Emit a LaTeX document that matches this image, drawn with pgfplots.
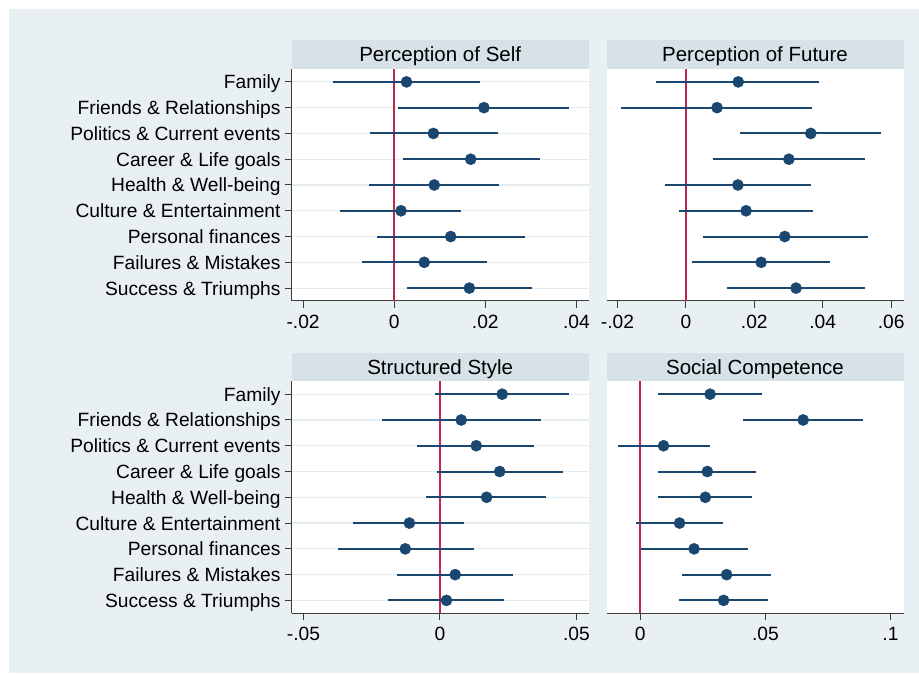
\documentclass[border=0pt]{standalone}
\usepackage{pgfplots}
\pgfplotsset{compat=1.18}
\usepackage{pgfplotstable}
\usepackage{fontspec}
\setmainfont{Liberation Sans}

\definecolor{bgcol}{RGB}{233,240,243}
\definecolor{titlecol}{RGB}{214,225,232}
\definecolor{gridcol}{RGB}{228,236,240}
\definecolor{navy}{RGB}{26,71,111}
\definecolor{refred}{RGB}{190,40,80}
\definecolor{axiscol}{RGB}{60,60,60}

% row  pt  lo  hi
\pgfplotstableread{
row pt lo hi
1 0.0027 -0.0134 0.0188
2 0.0197 0.0009 0.0384
3 0.0086 -0.0053 0.0227
4 0.0168 0.0020 0.0319
5 0.0088 -0.0055 0.0231
6 0.0015 -0.0118 0.0146
7 0.0124 -0.0038 0.0287
8 0.0066 -0.0071 0.0203
9 0.0165 0.0029 0.0303
}\self
\pgfplotstableread{
row pt lo hi
1 0.0153 -0.0086 0.0390
2 0.0091 -0.0190 0.0369
3 0.0365 0.0159 0.0569
4 0.0301 0.0080 0.0523
5 0.0152 -0.0060 0.0365
6 0.0176 -0.0021 0.0371
7 0.0289 0.0050 0.0531
8 0.0220 0.0017 0.0421
9 0.0322 0.0121 0.0523
}\future
\pgfplotstableread{
row pt lo hi
1 0.0228 -0.0019 0.0473
2 0.0078 -0.0211 0.0369
3 0.0133 -0.0084 0.0346
4 0.0219 -0.0010 0.0452
5 0.0171 -0.0050 0.0390
6 -0.0112 -0.0317 0.0090
7 -0.0127 -0.0375 0.0124
8 0.0056 -0.0156 0.0266
9 0.0024 -0.0189 0.0235
}\structured
\pgfplotstableread{
row pt lo hi
1 0.0279 0.0069 0.0487
2 0.0651 0.0409 0.0889
3 0.0093 -0.0088 0.0279
4 0.0268 0.0069 0.0463
5 0.0260 0.0072 0.0447
6 0.0157 -0.0017 0.0329
7 0.0215 0.0003 0.0429
8 0.0345 0.0168 0.0521
9 0.0333 0.0153 0.0509
}\social

\pgfplotsset{
  every axis title shift=0pt,
  panel/.style={
    scale only axis, width=297pt, height=232pt,
    ymin=0.5, ymax=9.5, y dir=reverse,
    ytick={1,...,9},
    scaled x ticks=false,
    axis background/.style={fill=white},
    ymajorgrids, major grid style={gridcol, line width=1.2pt},
    axis x line*=bottom,
    axis line style={axiscol, line width=1pt, -},
    tick align=outside, major tick length=7pt,
    tick style={axiscol, line width=1pt},
    tick label style={font=\fontsize{19.2}{23}\selectfont},
    xticklabel style={inner sep=0pt, yshift=-7pt},
    yticklabel style={inner sep=0pt, anchor=base east, yshift=-7pt, xshift=-4pt},
    title style={font=\fontsize{20.5}{24}\selectfont, fill=titlecol,
      at={(0.5,1)}, anchor=south, inner sep=0pt,
      minimum width=297pt, minimum height=28.5pt,
      text height=14.5pt, text depth=0pt},
    clip=false,
  },
  leftpanel/.style={panel, axis y line*=left,
    yticklabels={Family, Friends \& Relationships, Politics \& Current events,
      Career \& Life goals, Health \& Well-being, Culture \& Entertainment,
      Personal finances, Failures \& Mistakes, Success \& Triumphs}},
  rightpanel/.style={panel, axis y line=none, yticklabels={}},
  ci/.style={navy, only marks, mark=*, mark size=5.6pt,
    mark options={fill=navy, draw=navy},
    error bars/.cd, x dir=both, x explicit, error mark=none,
    error bar style={navy, line width=2pt}},
}

\begin{document}
\begin{tikzpicture}
\path[use as bounding box] (0pt,0pt) rectangle (919pt,674pt);
\fill[bgcol] (9pt,1pt) rectangle (919pt,665pt);

% Perception of Self
\begin{axis}[leftpanel, at={(291.7pt,373pt)}, anchor=south west,
  title={Perception of Self},
  xmin=-0.0225, xmax=0.0427,
  xtick={-0.02,0,0.02,0.04}, xticklabels={-.02,0,.02,.04}]
\addplot[refred, line width=2pt, mark=none] coordinates {(0,0.5) (0,9.5)};
\addplot[ci] table[x=pt, y=row,
  x error plus expr=\thisrow{hi}-\thisrow{pt},
  x error minus expr=\thisrow{pt}-\thisrow{lo}] {\self};
\end{axis}

% Perception of Future
\begin{axis}[rightpanel, at={(606.5pt,373pt)}, anchor=south west,
  title={Perception of Future},
  xmin=-0.0232, xmax=0.0636,
  xtick={-0.02,0,0.02,0.04,0.06}, xticklabels={-.02,0,.02,.04,.06}]
\addplot[refred, line width=2pt, mark=none] coordinates {(0,0.5) (0,9.5)};
\addplot[ci] table[x=pt, y=row,
  x error plus expr=\thisrow{hi}-\thisrow{pt},
  x error minus expr=\thisrow{pt}-\thisrow{lo}] {\future};
\end{axis}

% Structured Style
\begin{axis}[leftpanel, at={(291.7pt,60.7pt)}, anchor=south west,
  title={Structured Style},
  xmin=-0.0543, xmax=0.0545,
  xtick={-0.05,0,0.05}, xticklabels={-.05,0,.05}]
\addplot[refred, line width=2pt, mark=none] coordinates {(0,0.5) (0,9.5)};
\addplot[ci] table[x=pt, y=row,
  x error plus expr=\thisrow{hi}-\thisrow{pt},
  x error minus expr=\thisrow{pt}-\thisrow{lo}] {\structured};
\end{axis}

% Social Competence
\begin{axis}[rightpanel, at={(606.5pt,60.7pt)}, anchor=south west,
  title={Social Competence},
  xmin=-0.0135, xmax=0.1052,
  xtick={0,0.05,0.1}, xticklabels={0,.05,.1}]
\addplot[refred, line width=2pt, mark=none] coordinates {(0,0.5) (0,9.5)};
\addplot[ci] table[x=pt, y=row,
  x error plus expr=\thisrow{hi}-\thisrow{pt},
  x error minus expr=\thisrow{pt}-\thisrow{lo}] {\social};
\end{axis}
\end{tikzpicture}
\end{document}
